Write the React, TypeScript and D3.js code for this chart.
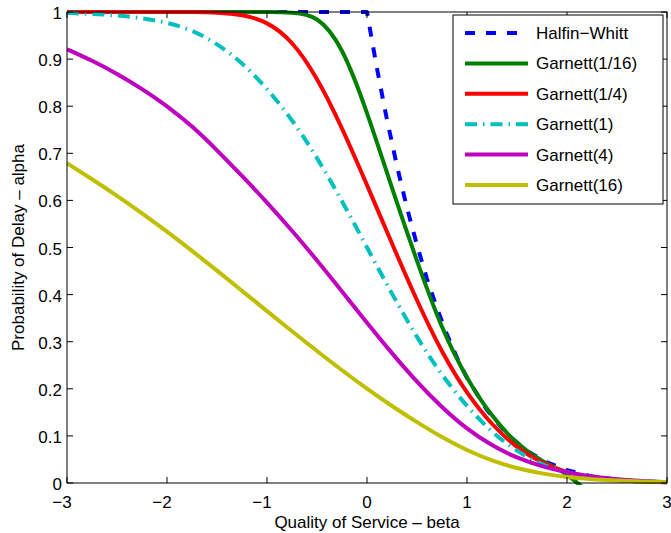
import React from "react";
import * as d3 from "d3";

// beta grid shared by the Garnett curves
const BETA = [
	-3, -2.75, -2.5, -2.25, -2, -1.75, -1.5, -1.25, -1, -0.75, -0.5, -0.25, 0,
	0.25, 0.5, 0.75, 1, 1.25, 1.5, 1.75, 2, 2.25, 2.5, 2.75, 3,
];

// Halfin-Whitt has its own grid (kink at beta = 0)
const HW_BETA = [
	-3, 0, 0.05, 0.1, 0.15, 0.2, 0.3, 0.4, 0.5, 0.6, 0.7, 0.8, 0.9, 1, 1.2, 1.4,
	1.6, 1.8, 2, 2.25, 2.5, 2.75, 3,
];
const HALFIN_WHITT = [
	1, 1, 0.939, 0.88, 0.825, 0.771, 0.673, 0.584, 0.505, 0.433, 0.371, 0.315,
	0.266, 0.223, 0.155, 0.104, 0.068, 0.044, 0.027, 0.014, 0.007, 0.0033, 0.0015,
];

const GARNETT_1_16 = [
	1, 1, 1, 1, 1, 1, 1, 1, 1, 0.999, 0.994, 0.93, 0.789, 0.625, 0.47, 0.325,
	0.22, 0.14, 0.082, 0.045, 0.022, -0.03, -0.04, -0.04, -0.04,
];
const GARNETT_1_4 = [
	1, 1, 1, 1, 1, 1, 0.999, 0.995, 0.98, 0.94, 0.862, 0.755, 0.633, 0.508,
	0.386, 0.276, 0.189, 0.123, 0.074, 0.042, 0.022, 0.012, 0.006, 0.003, 0.001,
];
const GARNETT_1 = [
	0.998, 0.996, 0.993, 0.987, 0.978, 0.962, 0.933, 0.893, 0.838, 0.772, 0.692,
	0.599, 0.5, 0.401, 0.308, 0.228, 0.162, 0.107, 0.067, 0.038, 0.022, 0.013,
	0.007, 0.004, 0.002,
];
const GARNETT_4 = [
	0.921, 0.897, 0.869, 0.837, 0.801, 0.758, 0.707, 0.652, 0.596, 0.536, 0.473,
	0.407, 0.34, 0.275, 0.214, 0.16, 0.114, 0.079, 0.053, 0.035, 0.022, 0.013,
	0.008, 0.004, 0.002,
];
const GARNETT_16 = [
	0.679, 0.645, 0.61, 0.573, 0.534, 0.493, 0.451, 0.408, 0.365, 0.322, 0.28,
	0.239, 0.2, 0.163, 0.129, 0.097, 0.069, 0.047, 0.031, 0.02, 0.012, 0.008,
	0.005, 0.003, 0.002,
];

const X_TICKS = [-3, -2, -1, 0, 1, 2, 3];
const Y_TICKS = [0, 0.1, 0.2, 0.3, 0.4, 0.5, 0.6, 0.7, 0.8, 0.9, 1];

const LEGEND_LABELS = [
	"Halfin\u2212Whitt",
	"Garnett(1/16)",
	"Garnett(1/4)",
	"Garnett(1)",
	"Garnett(4)",
	"Garnett(16)",
];

const FONT = "'Liberation Sans', Arial, Helvetica, sans-serif";

interface Series {
	label: string;
	xs: number[];
	ys: number[];
	color: string;
	dash?: string;
	linear?: boolean;
}

const SERIES: Series[] = [
	{ label: LEGEND_LABELS[0], xs: HW_BETA, ys: HALFIN_WHITT, color: "#0000ff", dash: "10,11", linear: true },
	{ label: LEGEND_LABELS[1], xs: BETA, ys: GARNETT_1_16, color: "#008000" },
	{ label: LEGEND_LABELS[2], xs: BETA, ys: GARNETT_1_4, color: "#ff0000" },
	{ label: LEGEND_LABELS[3], xs: BETA, ys: GARNETT_1, color: "#00bfbf", dash: "12,6,1.5,6" },
	{ label: LEGEND_LABELS[4], xs: BETA, ys: GARNETT_4, color: "#bf00bf" },
	{ label: LEGEND_LABELS[5], xs: BETA, ys: GARNETT_16, color: "#bfbf00" },
];

const W = 671;
const H = 533;
const margin = { top: 12, right: 4, bottom: 50, left: 67 };

export default function App() {
	const x = d3.scaleLinear().domain([-3, 3]).range([margin.left, W - margin.right]);
	const y = d3.scaleLinear().domain([0, 1]).range([H - margin.bottom, margin.top]);
	const [x0, x1] = x.range();
	const [y0, y1] = y.range(); // y0 bottom, y1 top

	const makePath = (s: Series) => {
		const pts = s.xs.map((b, i) => [b, s.ys[i]] as [number, number]);
		return d3
			.line<[number, number]>()
			.x((d) => x(d[0]))
			.y((d) => y(d[1]))
			.curve(s.linear ? d3.curveLinear : d3.curveBasis)(pts) as string;
	};

	const tick = 6;
	const legend = { x: 453, y: 15, w: 210, h: 189, rowY0: 33, rowStep: 30.4 };

	return (
		<>
			<style>{`body{margin:0;}`}</style>
			<svg width={W} height={H} style={{ display: "block", background: "#fff" }} fontFamily={FONT}>
				<defs>
					<clipPath id="plot-clip">
						<rect x={x0} y={y1 - 3} width={x1 - x0} height={y0 - y1 + 5} />
					</clipPath>
				</defs>

				{/* curves */}
				<g clipPath="url(#plot-clip)">
					{SERIES.map((s) => (
						<path
							key={s.label}
							d={makePath(s)}
							fill="none"
							stroke={s.color}
							strokeWidth={4}
							strokeDasharray={s.dash}
							strokeLinejoin="round"
						/>
					))}
				</g>

				{/* axes box + ticks */}
				<rect x={x0} y={y1} width={x1 - x0} height={y0 - y1} fill="none" stroke="#000" strokeWidth={1} />
				{X_TICKS.map((t) => (
					<g key={"x" + t}>
						<line x1={x(t)} x2={x(t)} y1={y0} y2={y0 - tick} stroke="#000" />
						<line x1={x(t)} x2={x(t)} y1={y1} y2={y1 + tick} stroke="#000" />
						<text
							x={x(t) + (t < 0 ? -5 : 0)}
							y={y0 + 25}
							fontSize={17}
							textAnchor="middle"
						>
							{t < 0 ? "\u2212" + Math.abs(t) : String(t)}
						</text>
					</g>
				))}
				{Y_TICKS.map((t) => (
					<g key={"y" + t}>
						<line x1={x0} x2={x0 + tick} y1={y(t)} y2={y(t)} stroke="#000" />
						<line x1={x1} x2={x1 - tick} y1={y(t)} y2={y(t)} stroke="#000" />
						<text x={x0 - 5} y={y(t) + 7} fontSize={17} textAnchor="end">
							{String(t)}
						</text>
					</g>
				))}

				{/* axis labels */}
				<text x={(x0 + x1) / 2} y={H - 5} fontSize={17} textAnchor="middle">
					Quality of Service {"\u2013"} beta
				</text>
				<text
					transform={`translate(24,${(y0 + y1) / 2}) rotate(-90)`}
					fontSize={17}
					textAnchor="middle"
				>
					Probability of Delay {"\u2013"} alpha
				</text>

				{/* legend */}
				<g>
					<rect x={legend.x} y={legend.y} width={legend.w} height={legend.h} fill="#fff" stroke="#000" strokeWidth={1} />
					{SERIES.map((s, i) => {
						const ry = legend.rowY0 + i * legend.rowStep;
						return (
							<g key={"lg" + s.label}>
								<line
									x1={465}
									x2={528}
									y1={ry}
									y2={ry}
									stroke={s.color}
									strokeWidth={4}
									strokeDasharray={s.dash}
								/>
								<text x={536} y={ry + 6} fontSize={17}>
									{s.label}
								</text>
							</g>
						);
					})}
				</g>
			</svg>
		</>
	);
}
